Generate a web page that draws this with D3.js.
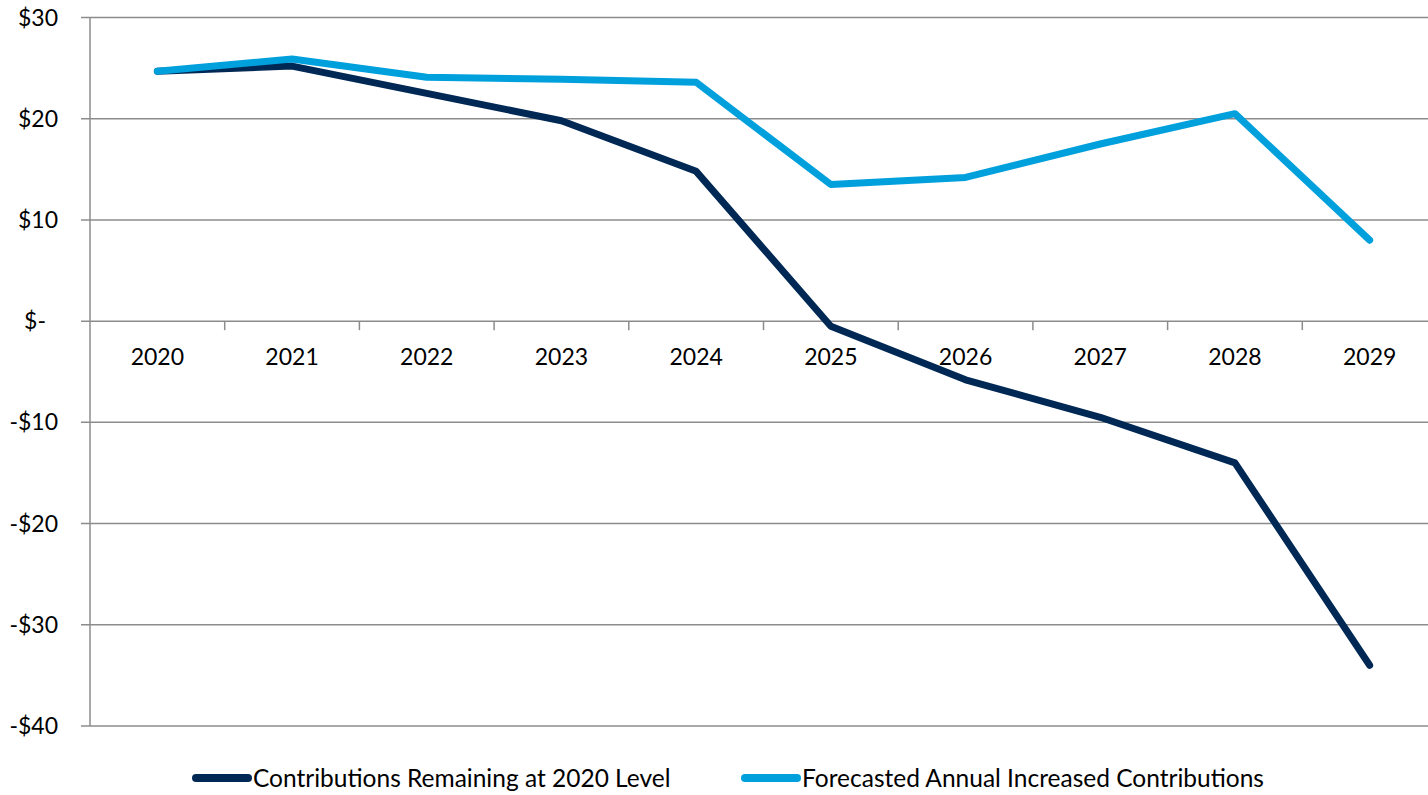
<!DOCTYPE html>
<html>
<head>
<meta charset="utf-8">
<script src="https://cdn.jsdelivr.net/npm/d3@7"></script>
<style>
  body { margin: 0; background: #fff; }
  svg { display: block; }
  text { font-family: Lato, "Open Sans", sans-serif; font-size: 23px; fill: #000; }
  .legend text { font-size: 24.5px; }
</style>
</head>
<body>
<div id="chart"></div>
<script>
// chart data
var years = ["2020", "2021", "2022", "2023", "2024", "2025", "2026", "2027", "2028", "2029"];
var remaining = [24.7, 25.2, 22.5, 19.8, 14.8, -0.5, -5.8, -9.5, -14.0, -34.0];
var increased = [24.7, 25.9, 24.1, 23.9, 23.6, 13.5, 14.2, 17.5, 20.5, 8.0];
var yTicks = [-40, -30, -20, -10, 0, 10, 20, 30];
var seriesNames = ["Contributions Remaining at 2020 Level", "Forecasted Annual Increased Contributions"];
var seriesColors = ["#002855", "#00a0dd"];

var W = 1428, H = 795;
var margin = { top: 17.5, left: 90, right: -9, bottom: 69 };

var svg = d3.select("#chart").append("svg")
    .attr("width", W)
    .attr("height", H);

var x = d3.scaleBand()
    .domain(years)
    .range([margin.left, W - margin.right]);

var y = d3.scaleLinear()
    .domain([-40, 30])
    .range([H - margin.bottom, margin.top]);

// gridlines
svg.append("g")
    .selectAll("line")
    .data(yTicks)
    .enter()
    .append("line")
    .attr("x1", margin.left - 9)
    .attr("x2", W)
    .attr("y1", function(d) { return y(d); })
    .attr("y2", function(d) { return y(d); })
    .attr("stroke", "#8c8c8c")
    .attr("stroke-width", 1.5);

// y axis line
svg.append("line")
    .attr("x1", margin.left).attr("x2", margin.left)
    .attr("y1", y(30)).attr("y2", y(-40))
    .attr("stroke", "#8c8c8c")
    .attr("stroke-width", 1.5);

// y labels
svg.append("g")
    .selectAll("text")
    .data(yTicks)
    .enter()
    .append("text")
    .attr("x", function(d) { return d == 0 ? 46 : 58; })
    .attr("y", function(d) { return y(d); })
    .attr("dy", "0.35em")
    .attr("text-anchor", "end")
    .text(function(d) {
        if (d == 0) return "$-";
        return (d < 0 ? "-$" : "$") + Math.abs(d);
    });

// category ticks on the zero line
svg.append("g")
    .selectAll("line")
    .data(years.slice(1))
    .enter()
    .append("line")
    .attr("x1", function(d) { return x(d); })
    .attr("x2", function(d) { return x(d); })
    .attr("y1", y(0))
    .attr("y2", y(0) + 9)
    .attr("stroke", "#8c8c8c")
    .attr("stroke-width", 1.5);

// category labels
svg.append("g")
    .selectAll("text")
    .data(years)
    .enter()
    .append("text")
    .attr("x", function(d) { return x(d) + x.bandwidth() / 2; })
    .attr("y", y(0) + 36)
    .attr("dy", "0.35em")
    .attr("text-anchor", "middle")
    .text(function(d) { return d; });

// lines
var line = d3.line()
    .x(function(d, i) { return x(years[i]) + x.bandwidth() / 2; })
    .y(function(d) { return y(d); });

[remaining, increased].forEach(function(s, k) {
    svg.append("path")
        .datum(s)
        .attr("d", line)
        .attr("fill", "none")
        .attr("stroke", seriesColors[k])
        .attr("stroke-width", 7)
        .attr("stroke-linejoin", "round")
        .attr("stroke-linecap", "round");
});

// legend
var legendX = [193, 742];
seriesNames.forEach(function(name, k) {
    var g = svg.append("g").attr("class", "legend")
        .attr("transform", "translate(" + legendX[k] + ",778)");
    g.append("line")
        .attr("x1", 3).attr("x2", 55)
        .attr("y1", 0).attr("y2", 0)
        .attr("stroke", seriesColors[k])
        .attr("stroke-width", 8)
        .attr("stroke-linecap", "round");
    g.append("text")
        .attr("x", 60)
        .attr("y", 0)
        .attr("dy", "0.35em")
        .text(name);
});
</script>
</body>
</html>
